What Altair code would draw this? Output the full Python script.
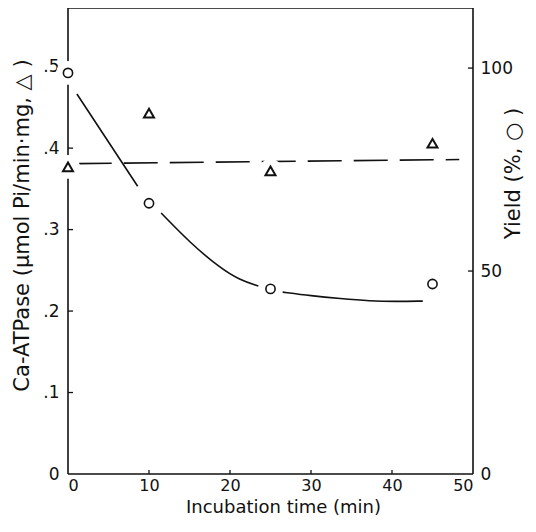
import altair as alt
import pandas as pd

# ---- data ----
time_pts = [0, 10, 25, 45]
atpase = [0.377, 0.443, 0.372, 0.406]        # triangles, left axis
yield_pct = [98.8, 66.7, 45.6, 46.8]          # circles, right axis

# fitted curve for yield (drawn in pieces, broken at the markers)
curve_x = [1.1, 8.6, 11.5, 15.1, 18.8, 21.2, 23.5, 26.5, 30.0, 33.6, 37.3, 40.5, 43.8]
curve_y = [93.6, 70.9, 64.3, 56.9, 50.7, 47.8, 46.3, 44.8, 43.9, 43.2, 42.6, 42.5, 42.6]
curve_seg = [1, 1, 2, 2, 2, 2, 2, 3, 3, 3, 3, 3, 3]

# dashed mean line for ATPase
dash_x = [1.2, 48.3]
dash_y = [0.381, 0.386]

left_ticks = [0.1, 0.2, 0.3, 0.4]
right_ticks = [50, 100]
x_ticks = [10, 20, 30, 40]

LEFT_DOMAIN = [0, 0.572]
RIGHT_DOMAIN = [0, 114.8]
X_DOMAIN = [0, 50]

W, H = 405, 466
FONT = "DejaVu Sans"
INK = "#111111"
LBL = 17
TTL = 21

pts = pd.DataFrame({"t": time_pts, "atp": atpase, "yld": yield_pct})
curve = pd.DataFrame({"t": curve_x, "yld": curve_y, "seg": curve_seg})
dash = pd.DataFrame({"t": dash_x, "atp": dash_y})
lt = pd.DataFrame({"t": left_ticks})
rt = pd.DataFrame({"t": right_ticks})
xt = pd.DataFrame({"t": x_ticks})
one = pd.DataFrame({"k": [0]})

xs = alt.Scale(domain=X_DOMAIN, nice=False, zero=False)
ls = alt.Scale(domain=LEFT_DOMAIN, nice=False, zero=False)
rs = alt.Scale(domain=RIGHT_DOMAIN, nice=False, zero=False)

X_TITLE = "Incubation time  (min)"
L_TITLE = "Ca-ATPase (µmol Pi/min·mg, △ )"
R_TITLE = "Yield (%, ○ )"

x_axis = alt.Axis(
    values=[0, 10, 20, 30, 40, 50], tickSize=0, domain=False, grid=False,
    labelFont=FONT, labelFontSize=16, labelColor=INK, labelPadding=3,
    title=X_TITLE, titleFont=FONT, titleFontSize=18,
    titleFontWeight="normal", titleColor=INK, titlePadding=5, titleX=215,
    titleAlign="center",
)

left_axis = alt.Axis(
    orient="left", values=[0, 0.1, 0.2, 0.3, 0.4, 0.5], tickSize=0, domain=False,
    grid=False,
    labelExpr="datum.value == 0 ? '0' : replace(format(datum.value, '.1f'), '0.', '.')",
    labelFont=FONT, labelFontSize=LBL, labelColor=INK, labelPadding=9,
    title=L_TITLE, titleFont=FONT, titleFontSize=TTL,
    titleFontWeight="normal", titleColor=INK, titlePadding=10, titleY=217,
)

right_axis = alt.Axis(
    orient="right", values=[0, 50, 100], tickSize=0, domain=False, grid=False,
    labelFont=FONT, labelFontSize=LBL, labelColor=INK, labelPadding=7,
    title=R_TITLE, titleFont=FONT, titleFontSize=TTL, titleAngle=270,
    titleFontWeight="normal", titleColor=INK, titlePadding=11, titleY=165,
)


def X(field="t"):
    return alt.X(f"{field}:Q", scale=xs, axis=x_axis, title=X_TITLE)


def YL(field):
    return alt.Y(f"{field}:Q", scale=ls, axis=left_axis, title=L_TITLE)


def YR(field):
    return alt.Y(f"{field}:Q", scale=rs, axis=right_axis, title=R_TITLE)


# ---- frame (drawn first so marker halos can break it) ----
frame_style = dict(color=INK, strokeWidth=1.6)
frame_l = alt.Chart(one).mark_rule(**frame_style).encode(
    x=alt.value(0), y=alt.value(0), y2=alt.value(H))
frame_r = alt.Chart(one).mark_rule(**frame_style).encode(
    x=alt.value(W), y=alt.value(0), y2=alt.value(H))
frame_t = alt.Chart(one).mark_rule(**frame_style).encode(
    y=alt.value(0), x=alt.value(0), x2=alt.value(W))
frame_b = alt.Chart(one).mark_rule(**frame_style).encode(
    y=alt.value(H), x=alt.value(0), x2=alt.value(W))

# ---- left (ATPase) group ----
dash_line = alt.Chart(dash).mark_line(
    color=INK, strokeWidth=1.6, strokeDash=[34, 12]
).encode(x=X(), y=YL("atp"))

lticks = alt.Chart(lt).mark_rule(color=INK, strokeWidth=1.3).encode(
    y=YL("t"), x=alt.value(0), x2=alt.value(5),
)

tri_halo = alt.Chart(pts).mark_point(
    shape="circle", filled=True, color="white", opacity=1, size=560
).encode(x=X(), y=YL("atp"))

tri = alt.Chart(pts).mark_point(
    shape="triangle-up", filled=False, color=INK, strokeWidth=2, size=100, opacity=1
).encode(x=X(), y=YL("atp"))

left_group = alt.layer(frame_l, frame_r, frame_t, frame_b, dash_line, lticks, tri_halo, tri)

# ---- right (yield) group ----
curve_line = alt.Chart(curve).mark_line(
    color=INK, strokeWidth=1.6, interpolate="basis"
).encode(x=X(), y=YR("yld"), detail="seg:N")

circ_halo = alt.Chart(pts).mark_point(
    shape="circle", filled=True, color="white", opacity=1, size=560
).encode(x=X(), y=YR("yld"))

circ = alt.Chart(pts).mark_point(
    shape="circle", filled=False, color=INK, strokeWidth=1.6, size=85, opacity=1
).encode(x=X(), y=YR("yld"))

rticks = alt.Chart(rt).mark_rule(color=INK, strokeWidth=1.3).encode(
    y=YR("t"), x=alt.value(W - 5), x2=alt.value(W),
)

xticks = alt.Chart(xt).mark_rule(color=INK, strokeWidth=1.3).encode(
    x=X(), y=alt.value(H - 4), y2=alt.value(H),
)

right_group = alt.layer(curve_line, circ_halo, circ, rticks, xticks)

chart = alt.layer(left_group, right_group).resolve_scale(
    y="independent"
).properties(
    width=W, height=H,
    autosize=alt.AutoSizeParams(type="none"),
    padding={"left": 60, "top": 0, "right": 55, "bottom": 50},
).configure(
    background="white",
    view=alt.ViewConfig(stroke="transparent", strokeWidth=0),
)

chart.save("out.html", embed_options={"renderer": "svg", "actions": False})
